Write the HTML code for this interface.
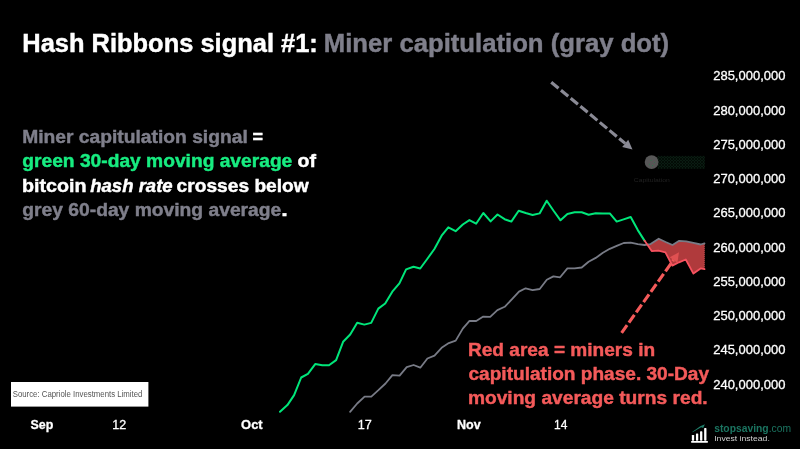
<!DOCTYPE html>
<html><head><meta charset="utf-8"><title>Hash Ribbons signal #1</title>
<style>
html,body{margin:0;padding:0;background:#000;}
body{width:800px;height:449px;overflow:hidden;position:relative;font-family:"Liberation Sans",sans-serif;}
svg{position:absolute;left:0;top:0;display:block;}
text{font-family:"Liberation Sans",sans-serif;stroke-width:0;}
.bd{stroke-width:0.45px;}
.th{stroke-width:0.3px;}
.g{fill:#7f7f8b;stroke:#7f7f8b;}
.w{fill:#fff;stroke:#fff;}
.gr{fill:#17ec80;stroke:#17ec80;}
.r{fill:#f45a5a;stroke:#f45a5a;}
</style></head><body>
<svg width="800" height="449" viewBox="0 0 800 449">
<rect width="800" height="449" fill="#000"/>
<!-- chart -->
<polygon points="647.4,244.7 650.6,244.1 658.7,238.7 665.6,242.0 672.5,245.0 679.2,240.8 686.2,241.4 693.4,242.8 700.6,244.5 704.5,243.4 704.5,269.2 700.6,268.4 693.4,273.6 685.8,259.5 679.0,262.3 672.3,265.6 665.4,252.3 658.4,250.6 651.7,251.1" fill="#b03a3c"/>
<line x1="704.3" y1="244" x2="704.3" y2="269" stroke="#e86060" stroke-width="1" stroke-dasharray="1 1" opacity="0.6"/>
<polyline points="350.1,411.8 357.2,403.5 364.6,396.6 371.3,396.6 378.4,390.2 385.5,383.5 392.4,375.2 399.6,375.7 406.7,367.2 413.6,365.0 420.3,367.7 427.4,358.5 434.5,355.6 441.6,347.8 448.8,343.1 455.7,340.6 462.8,328.6 469.5,320.8 476.2,321.0 483.3,316.6 490.2,316.8 497.4,310.1 504.7,306.8 511.8,299.4 519.0,291.6 525.6,288.3 532.6,290.1 539.7,289.0 546.8,279.8 553.4,276.4 560.1,277.3 567.4,268.4 574.6,268.4 581.7,267.5 588.6,261.7 595.7,257.9 602.9,252.8 609.8,248.8 616.7,245.9 623.7,243.0 630.7,242.7 637.8,244.1 644.5,245.0 650.6,244.1 658.7,238.7 665.6,242.0 672.5,245.0 679.2,240.8 686.2,241.4 693.4,242.8 700.6,244.5 704.5,243.4" fill="none" stroke="#787b86" stroke-width="1.8" stroke-linejoin="round" stroke-linecap="round"/>
<polyline points="280.0,411.8 287.4,405.1 294.1,395.1 301.2,377.5 307.9,373.9 315.2,364.1 322.3,365.2 329.0,365.2 336.1,360.1 343.1,341.8 350.2,334.5 357.2,322.8 364.3,324.6 371.2,322.9 378.3,308.6 385.2,303.5 392.3,291.7 399.4,283.4 406.1,269.4 413.5,266.7 420.2,268.5 427.2,259.0 434.4,249.0 441.6,235.7 448.3,227.4 455.6,231.2 462.8,224.5 469.4,220.1 476.1,223.7 483.3,213.0 490.6,221.4 497.5,214.5 504.6,219.2 511.3,221.6 518.7,210.7 525.7,213.0 532.6,215.0 539.6,213.4 546.7,200.7 553.4,210.5 560.5,220.3 567.4,213.9 574.6,212.3 581.7,212.3 588.6,214.7 595.7,213.2 602.9,213.6 609.8,213.4 616.7,221.6 623.6,219.4 630.7,217.0 637.8,230.1 644.5,240.6" fill="none" stroke="#00e67a" stroke-width="2" stroke-linejoin="round" stroke-linecap="round"/>
<polyline points="644.5,240.6 651.7,251.1 658.4,250.6 665.4,252.3 672.3,265.6 679.0,262.3 685.8,259.5 693.4,273.6 700.6,268.4 704.5,269.2" fill="none" stroke="#f7525f" stroke-width="1.8" stroke-linejoin="round" stroke-linecap="round"/>
<!-- legend -->
<defs><pattern id="hatch" width="3" height="3" patternUnits="userSpaceOnUse"><rect width="3" height="3" fill="#0a1c12"/><path d="M0,0 L3,3 M3,0 L0,3" stroke="#020a05" stroke-width="0.9"/></pattern></defs>
<rect x="657.6" y="155.9" width="47.3" height="12.9" fill="url(#hatch)"/>
<circle cx="651.6" cy="162.1" r="6.9" fill="#575757"/>
<g fill="#0b8f45"><circle cx="651.1" cy="160.2" r="0.45"/><circle cx="654.5" cy="162.4" r="0.45"/><circle cx="649.5" cy="164.3" r="0.45"/><circle cx="652.6" cy="165.5" r="0.45"/></g>
<text x="633.8" y="182.1" font-size="5.8" fill="#212121" textLength="36" lengthAdjust="spacingAndGlyphs">Capitulation</text>
<!-- gray arrow -->
<line x1="551.25" y1="82.2" x2="625.2" y2="143.4" stroke="#8a8a95" stroke-width="3.15" stroke-dasharray="9.45 3.15"/>
<polygon points="632.5,149.4 622.2,147.0 628.2,139.8" fill="#8a8a95"/>
<!-- red arrow -->
<line x1="621.6" y1="332.9" x2="673.5" y2="260" stroke="#f45a5a" stroke-width="3.15" stroke-dasharray="9.45 3.15"/>
<polygon points="679,252.3 677.4,262.7 669.7,257.3" fill="#f45a5a" opacity="0.7"/>
<!-- title -->
<text x="22.28" y="52.0" font-size="26.5" textLength="295.57" lengthAdjust="spacingAndGlyphs" style="font-weight:bold" class="w bd">Hash Ribbons signal #1:</text>
<text x="323.76" y="52.0" font-size="26.5" textLength="345.39" lengthAdjust="spacingAndGlyphs" style="font-weight:bold" class="g bd">Miner capitulation (gray dot)</text>
<!-- left text -->
<text x="22.2" y="143.3" font-size="18.9" textLength="225.57" lengthAdjust="spacingAndGlyphs" style="font-weight:bold" class="g bd">Miner capitulation signal</text><text x="252.58" y="143.3" font-size="18.9" textLength="10.51" lengthAdjust="spacingAndGlyphs" style="font-weight:bold" class="w bd">=</text>
<text x="22.3" y="167.4" font-size="18.9" textLength="270.0" lengthAdjust="spacingAndGlyphs" style="font-weight:bold" class="gr bd">green 30-day moving average</text><text x="297.63" y="167.4" font-size="18.9" textLength="18.47" lengthAdjust="spacingAndGlyphs" style="font-weight:bold" class="w bd">of</text>
<text x="21.93" y="191.5" font-size="18.9" textLength="64.61" lengthAdjust="spacingAndGlyphs" style="font-weight:bold" class="w bd">bitcoin</text><text x="90.18" y="191.5" font-size="18.9" textLength="82.53" lengthAdjust="spacingAndGlyphs" style="font-weight:bold;font-style:italic" class="w bd">hash rate</text><text x="176.61" y="191.5" font-size="18.9" textLength="132.1" lengthAdjust="spacingAndGlyphs" style="font-weight:bold" class="w bd">crosses below</text>
<text x="22.3" y="215.6" font-size="18.9" textLength="258.96" lengthAdjust="spacingAndGlyphs" style="font-weight:bold" class="g bd">grey 60-day moving average</text><text x="281.3" y="215.6" font-size="18.9" textLength="6.51" lengthAdjust="spacingAndGlyphs" style="font-weight:bold" class="w bd">.</text>
<!-- red text -->
<text x="467.98" y="356.3" font-size="18.9" textLength="187.19" lengthAdjust="spacingAndGlyphs" style="font-weight:bold" class="r bd">Red area = miners in</text>
<text x="468.49" y="380.0" font-size="18.9" textLength="240.58" lengthAdjust="spacingAndGlyphs" style="font-weight:bold" class="r bd">capitulation phase. 30-Day</text>
<text x="467.9" y="403.7" font-size="18.9" textLength="239.79" lengthAdjust="spacingAndGlyphs" style="font-weight:bold" class="r bd">moving average turns red.</text>
<!-- y labels -->
<text x="713.19" y="80.3" font-size="13.1" textLength="72.23" lengthAdjust="spacingAndGlyphs" class="w th">285,000,000</text>
<text x="713.19" y="114.5" font-size="13.1" textLength="72.23" lengthAdjust="spacingAndGlyphs" class="w th">280,000,000</text>
<text x="713.19" y="148.8" font-size="13.1" textLength="72.23" lengthAdjust="spacingAndGlyphs" class="w th">275,000,000</text>
<text x="713.19" y="183.0" font-size="13.1" textLength="72.23" lengthAdjust="spacingAndGlyphs" class="w th">270,000,000</text>
<text x="713.19" y="217.3" font-size="13.1" textLength="72.23" lengthAdjust="spacingAndGlyphs" class="w th">265,000,000</text>
<text x="713.19" y="251.5" font-size="13.1" textLength="72.23" lengthAdjust="spacingAndGlyphs" class="w th">260,000,000</text>
<text x="713.19" y="285.7" font-size="13.1" textLength="72.23" lengthAdjust="spacingAndGlyphs" class="w th">255,000,000</text>
<text x="713.19" y="320.0" font-size="13.1" textLength="72.23" lengthAdjust="spacingAndGlyphs" class="w th">250,000,000</text>
<text x="713.19" y="354.2" font-size="13.1" textLength="72.23" lengthAdjust="spacingAndGlyphs" class="w th">245,000,000</text>
<text x="713.19" y="388.5" font-size="13.1" textLength="72.23" lengthAdjust="spacingAndGlyphs" class="w th">240,000,000</text>
<!-- x labels -->
<text x="30.49" y="428.9" font-size="12.6" textLength="22.79" lengthAdjust="spacingAndGlyphs" style="font-weight:bold" class="w th">Sep</text><text x="112.33" y="429.1" font-size="12.6" textLength="13.94" lengthAdjust="spacingAndGlyphs" class="w th">12</text><text x="241.1" y="428.9" font-size="12.6" textLength="21.55" lengthAdjust="spacingAndGlyphs" style="font-weight:bold" class="w th">Oct</text><text x="357.63" y="429.1" font-size="12.6" textLength="14.01" lengthAdjust="spacingAndGlyphs" class="w th">17</text><text x="457.0" y="428.9" font-size="12.6" textLength="23.66" lengthAdjust="spacingAndGlyphs" style="font-weight:bold" class="w th">Nov</text><text x="554.0" y="429.1" font-size="12.6" textLength="13.32" lengthAdjust="spacingAndGlyphs" class="w th">14</text>
<!-- source box -->
<rect x="11" y="382" width="137.4" height="24.6" fill="#fff"/>
<text x="12.71" y="397.3" font-size="8.4" textLength="129.67" lengthAdjust="spacingAndGlyphs" fill="#555">Source: Capriole Investments Limited</text>
<!-- logo -->
<g fill="#fff">
<rect x="691.85" y="434.9" width="2.3" height="5.8" rx="0.6"/>
<rect x="695.95" y="433.4" width="2.3" height="7.3" rx="0.6"/>
<rect x="700.05" y="431.3" width="2.3" height="9.4" rx="0.6"/>
<rect x="704.15" y="428.1" width="2.3" height="12.6" rx="0.6"/>
<rect x="691.1" y="440.9" width="16.8" height="1.8" rx="0.4"/>
</g>
<polygon points="692.2,431.9 700.2,426.3 704.9,424.2 703.2,427.9 701.2,427.2 692.6,432.3" fill="#1f7d69"/>
<text x="714.2" y="432.4" font-size="10.3" fill="#1b7561" textLength="76.8" lengthAdjust="spacingAndGlyphs"><tspan style="font-weight:bold">stopsaving</tspan>.com</text>
<text x="714.2" y="441.3" font-size="8.1" fill="#d2d2d2" stroke="#d2d2d2" stroke-width="0.2" textLength="55.6" lengthAdjust="spacingAndGlyphs">Invest instead.</text>
</svg>
</body></html>
